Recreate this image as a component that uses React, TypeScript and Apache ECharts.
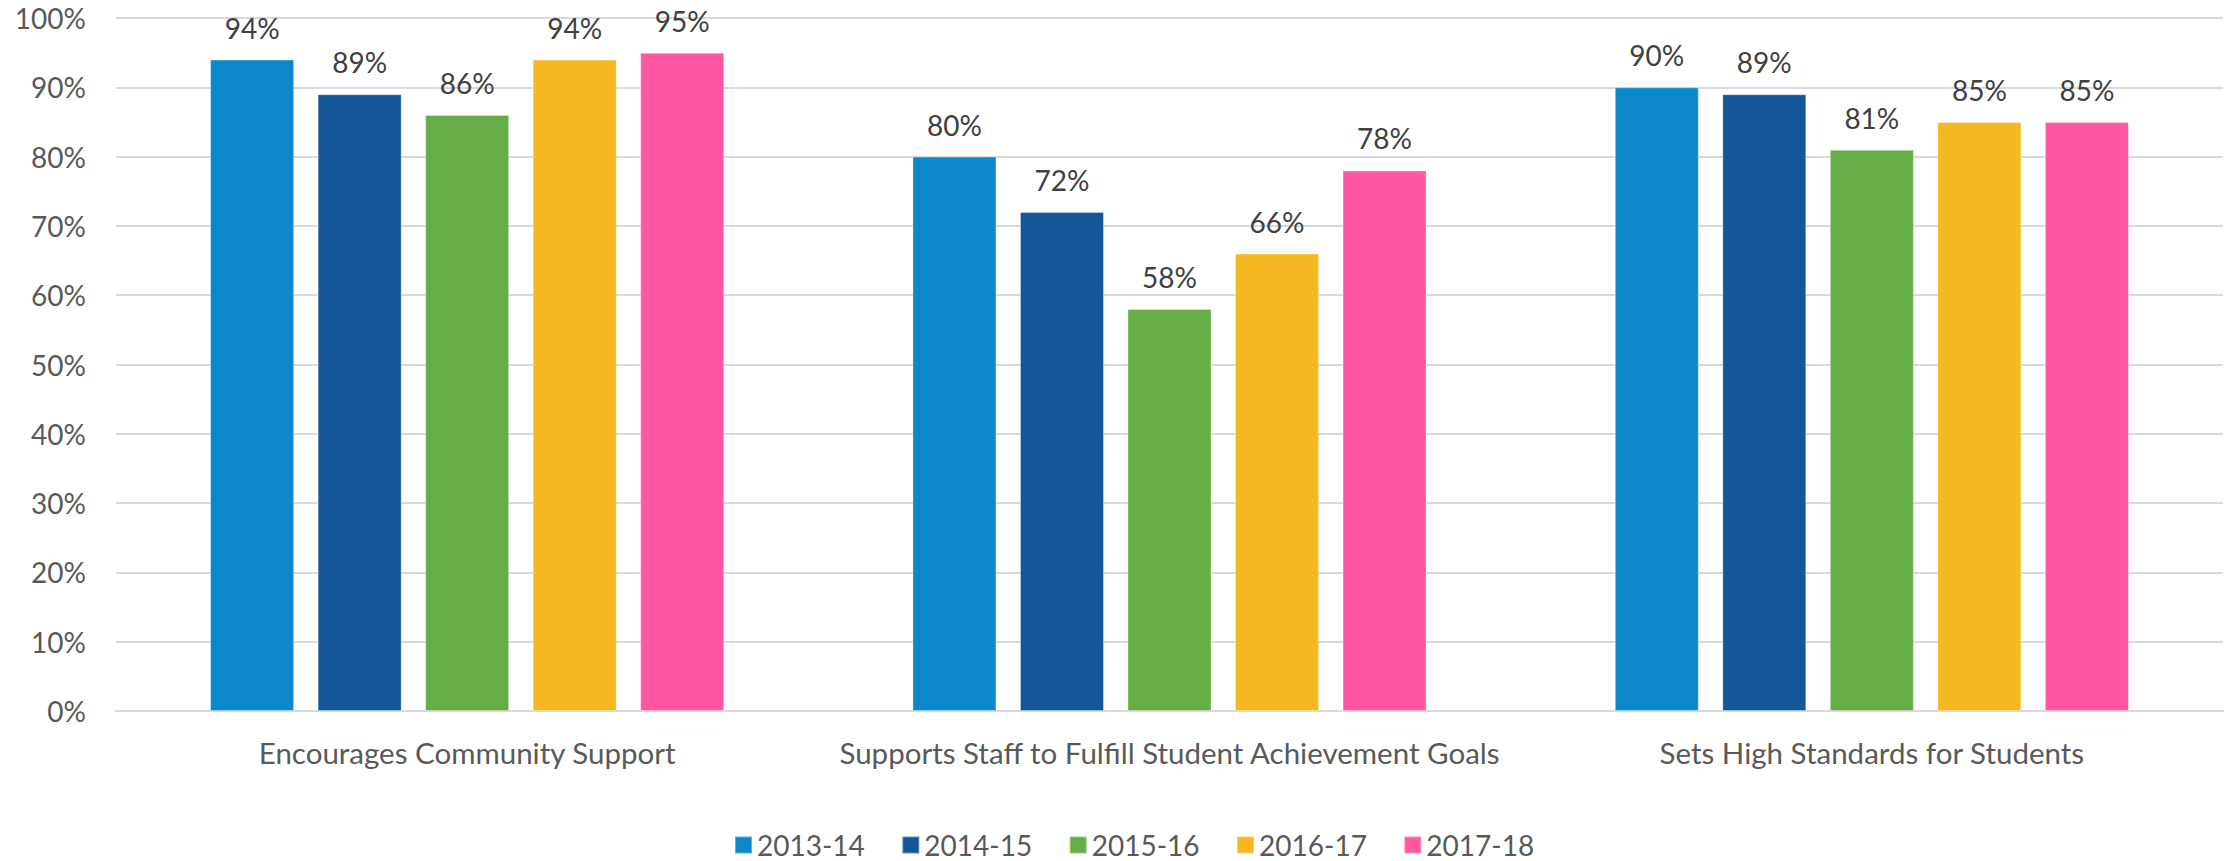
import React, { useEffect, useRef } from "react";
import * as echarts from "echarts";

const categories = [
  "Encourages Community Support",
  "Supports Staff to Fulfill Student Achievement Goals",
  "Sets High Standards for Students",
];
const seriesNames = ["2013-14", "2014-15", "2015-16", "2016-17", "2017-18"];
const values2013 = [94, 80, 90];
const values2014 = [89, 72, 89];
const values2015 = [86, 58, 81];
const values2016 = [94, 66, 85];
const values2017 = [95, 78, 85];
const seriesValues = [values2013, values2014, values2015, values2016, values2017];
const colors = ["#0B88C9", "#14569A", "#65AE45", "#F5B820", "#FF57A1"];
const yTicks = { min: 0, max: 100, interval: 10 };

const FONT = "Lato, 'Liberation Sans', sans-serif";

export default function App() {
  const ref = useRef<HTMLDivElement>(null);
  useEffect(() => {
    document.body.style.margin = "0";
    const chart = echarts.init(ref.current!, null, { renderer: "svg" });
    chart.setOption({
      animation: false,
      color: colors,
      textStyle: { fontFamily: FONT },
      grid: { left: 116, right: 5, top: 18, bottom: 150, containLabel: false },
      legend: {
        data: seriesNames,
        top: 831,
        left: 734,
        padding: 0,
        itemWidth: 17,
        itemHeight: 17,
        itemGap: 36.5,
        icon: "rect",
        textStyle: { fontSize: 28, lineHeight: 26, color: "#595959", fontFamily: FONT },
      },
      xAxis: {
        type: "category",
        data: categories,
        axisTick: { show: false },
        axisLine: { lineStyle: { color: "#D9D9D9", width: 2 } },
        axisLabel: { interval: 0, fontSize: 29.5, color: "#595959", margin: 26, fontFamily: FONT },
      },
      yAxis: {
        type: "value",
        min: yTicks.min,
        max: yTicks.max,
        interval: yTicks.interval,
        axisLine: { show: false },
        axisTick: { show: false },
        splitLine: { lineStyle: { color: "#D9D9D9", width: 2 } },
        axisLabel: { formatter: "{value}%", fontSize: 28, color: "#595959", margin: 30, fontFamily: FONT },
      },
      series: seriesNames.map((name, i) => ({
        name,
        type: "bar",
        data: seriesValues[i],
        barGap: "28%",
        barCategoryGap: "26.8%",
        itemStyle: { borderColor: "rgba(255,255,255,0.35)", borderWidth: 1 },
        label: {
          show: true,
          position: "top",
          distance: 18,
          formatter: "{c}%",
          fontSize: 28,
          color: "#404040",
          fontFamily: FONT,
        },
      })),
    });
    return () => chart.dispose();
  }, []);
  return <div ref={ref} style={{ width: 2228, height: 861 }} />;
}
